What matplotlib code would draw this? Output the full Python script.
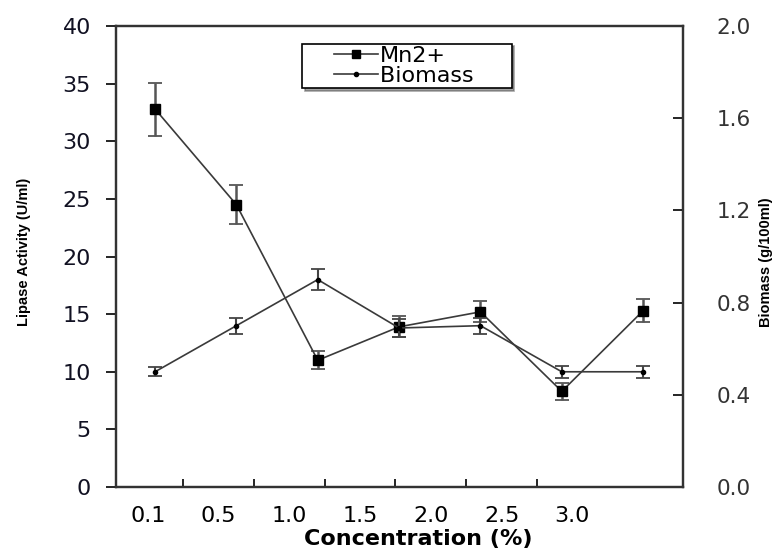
import matplotlib.pyplot as plt
from matplotlib.lines import Line2D
from matplotlib.legend_handler import HandlerLine2D
import numpy as np

# data
conc = ['0.1', '0.5', '1.0', '1.5', '2.0', '2.5', '3.0']
mn = [32.8, 24.5, 11.0, 13.9, 15.2, 8.3, 15.3]
mn_err = [2.3, 1.7, 0.8, 0.9, 0.9, 0.75, 1.0]
biomass = [0.50, 0.70, 0.90, 0.69, 0.70, 0.50, 0.50]
bio_err = [0.02, 0.035, 0.045, 0.04, 0.035, 0.025, 0.025]

x = np.arange(len(conc))

fig = plt.figure(figsize=(7.79, 5.53), dpi=100)
ax = fig.add_axes([0.1489, 0.1193, 0.7279, 0.8336])
ax2 = ax.twinx()

ax.errorbar(x, mn, yerr=mn_err, color='#3a3a3a', lw=1.2, marker='s', ms=7,
            mfc='black', mec='black', ecolor='#555555', elinewidth=1.8,
            capsize=5, capthick=1.3)
ax2.errorbar(x, biomass, yerr=bio_err, color='#3a3a3a', lw=1.2, marker='o', ms=3,
             mfc='black', mec='black', ecolor='#444444', elinewidth=1.5,
             capsize=5, capthick=1.3)

ax.set_xlim(-0.48, 6.49)
ax.set_ylim(0, 40)
ax2.set_ylim(0, 2.0)

# tick labels sit on their own spacing, tick marks in between
lab_pos = -0.09 + 0.87 * np.arange(len(conc))
ax.set_xticks(lab_pos)
ax.set_xticklabels(conc)
ax.tick_params(axis='x', length=0, pad=14, labelsize=16)
ax.set_xticks((lab_pos[:-1] + lab_pos[1:]) / 2, minor=True)
ax.tick_params(axis='x', which='minor', direction='in', length=6, width=1.2)

ax.set_yticks(np.arange(0, 41, 5))
ax.tick_params(axis='y', direction='out', length=7, width=1.2, pad=11, labelsize=16,
               labelcolor='#111122')
ax2.set_yticks([0.0, 0.4, 0.8, 1.2, 1.6, 2.0])
ax2.set_yticklabels(['0.0', '0.4', '0.8', '1.2', '1.6', '2.0'])
ax2.tick_params(axis='y', direction='in', length=7, width=1.2, pad=24, labelsize=15.5,
                labelcolor='#333333')

for a in (ax, ax2):
    for s in a.spines.values():
        s.set_linewidth(1.6)
        s.set_color('#333333')

narrow = ['Liberation Sans Narrow', 'Liberation Sans', 'DejaVu Sans']
fig.text(0.031, 0.544, 'Lipase Activity (U/ml)', rotation=90, ha='center', va='center',
         family=narrow, fontsize=10.5, fontweight='bold')
fig.text(0.983, 0.526, 'Biomass (g/100ml)', rotation=90, ha='center', va='center',
         family=narrow, fontsize=10.5, fontweight='bold')
fig.text(0.537, 0.008, 'Concentration (%)', ha='center', va='bottom',
         fontsize=16, fontweight='bold')


# legend handle: short line at the right end of a wide handle box
class ShortLine(HandlerLine2D):
    def get_xdata(self, legend, xdescent, ydescent, width, height, fontsize):
        end = -xdescent + width
        length = 44 * 0.72
        return [end - length, end], [end - length / 2]


fs = 16
handles = [Line2D([], [], color='#3a3a3a', lw=1.2, marker='s', ms=6, mfc='black', mec='black'),
           Line2D([], [], color='#3a3a3a', lw=1.2, marker='o', ms=3, mfc='black', mec='black')]
leg = ax.legend(handles, ['Mn2+', 'Biomass     '], loc='upper center',
                bbox_to_anchor=(0.513, 0.962), fontsize=fs, shadow=True, fancybox=False,
                edgecolor='black', handlelength=3.3, handletextpad=0.1,
                borderpad=0.1, labelspacing=0.0, borderaxespad=0,
                handler_map={Line2D: ShortLine()})
leg.get_frame().set_linewidth(1.2)

fig.savefig('out.png', dpi=100)
